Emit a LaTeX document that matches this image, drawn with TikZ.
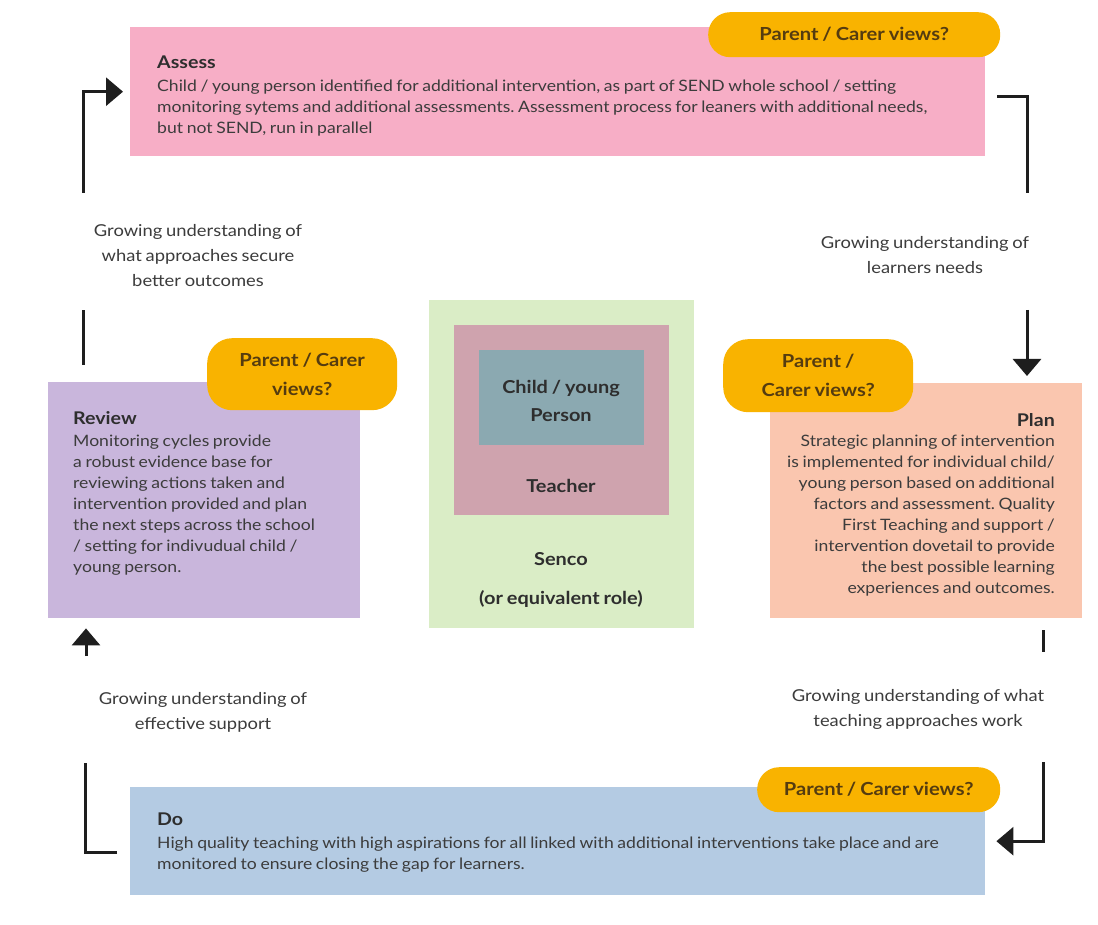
\documentclass[tikz,border=0pt]{standalone}
\usepackage{fontspec}
\setmainfont{Lato}[FakeStretch=1.12, WordSpace=0.8]
\usetikzlibrary{arrows.meta}
\frenchspacing
\definecolor{assessc}{HTML}{F7AEC6}
\definecolor{reviewc}{HTML}{C9B6DC}
\definecolor{planc}{HTML}{FAC6AF}
\definecolor{doc}{HTML}{B4CBE3}
\definecolor{pillc}{HTML}{F9B300}
\definecolor{pilltext}{HTML}{553C10}
\definecolor{greenc}{HTML}{DAEDC6}
\definecolor{teacherc}{HTML}{CFA3AE}
\definecolor{childc}{HTML}{8BA9B1}
\definecolor{bodyc}{HTML}{3C3C3C}
\definecolor{titlec}{HTML}{2E2E2E}
\definecolor{linec}{HTML}{1E1E1E}
\tikzset{
  panel/.style={inner sep=0pt, anchor=north west, draw=none},
  pill/.style={fill=pillc, rounded corners=22pt, inner sep=0pt, anchor=north west, text=pilltext, align=center, font=\fontsize{18}{29}\selectfont\bfseries},
  title/.style={inner sep=0pt, text=titlec, font=\fontsize{17.5}{20}\selectfont\bfseries},
  body/.style={inner sep=0pt, text=bodyc, font=\fontsize{15.7}{21}\selectfont},
  lbl/.style={inner sep=0pt, text=bodyc, align=center, font=\fontsize{16.4}{25}\selectfont},
  ctr/.style={inner sep=0pt, text=titlec, align=center, font=\fontsize{17.8}{28}\selectfont\bfseries},
  conn/.style={line width=3pt, draw=linec},
  arr/.style={conn, -{Triangle[width=28pt,length=17pt]}}
}
\begin{document}
\begin{tikzpicture}[x=1pt,y=-1pt]
\useasboundingbox[fill=white] (0,0) rectangle (1098,925);
% panels
\node[panel, fill=assessc, minimum width=855pt, minimum height=129pt] (assess) at (130,27) {};
\node[panel, fill=reviewc, minimum width=312pt, minimum height=236pt] (review) at (48,382) {};
\node[panel, fill=planc, minimum width=312pt, minimum height=235pt] (plan) at (770,383) {};
\node[panel, fill=doc, minimum width=855pt, minimum height=108pt] (do) at (130,787) {};
% pills
\node[pill, minimum width=292pt, minimum height=45pt] (pa) at (708,12) {Parent / Carer views?};
\node[pill, minimum width=190pt, minimum height=72pt, rounded corners=25pt] (pr) at (207,338) {Parent / Carer\\views?};
\node[pill, minimum width=190pt, minimum height=73pt, rounded corners=25pt] (pp) at (723,339) {Parent /\\Carer views?};
\node[pill, minimum width=243pt, minimum height=45pt] (pd) at (757,767) {Parent / Carer views?};
% centre
\node[panel, fill=greenc, minimum width=265pt, minimum height=328pt] (senco) at (429,300) {};
\node[panel, fill=teacherc, minimum width=215pt, minimum height=190pt] (teacher) at (454,325) {};
\node[panel, fill=childc, minimum width=165pt, minimum height=95pt] (child) at (479,350) {};
\node[ctr] (childt) at (561,401) {Child / young\\Person};
\node[ctr] (teachert) at (561,486) {Teacher};
\node[ctr] (sencot) at (561,559) {Senco};
\node[ctr] (sencor) at (561,599) {(or equivalent role)};
% texts
\node[title, anchor=west] (assesst) at (157,62) {Assess};
\node[body, anchor=north west, align=left] (assessb) at (157,80) {Child / young person identified for additional intervention, as part of SEND whole school / setting\\monitoring sytems and additional assessments. Assessment process for leaners with additional needs,\\but not SEND, run in parallel};
\node[title, anchor=west] (reviewt) at (73,418) {Review};
\node[body, anchor=north west, align=left] (reviewb) at (73,435) {Monitoring cycles provide\\a robust evidence base for\\reviewing actions taken and\\intervention provided and plan\\the next steps across the school\\/ setting for indivudual child /\\young person.};
\node[title, anchor=east] (plant) at (1055,420) {Plan};
\node[body, anchor=north east, align=right] (planb) at (1055,435) {Strategic planning of intervention\\is implemented for individual child/\\young person based on additional\\factors and assessment. Quality\\First Teaching and support /\\intervention dovetail to provide\\the best possible learning\\experiences and outcomes.};
\node[title, anchor=west] (dot) at (157,819) {Do};
\node[body, anchor=north west, align=left] (dob) at (157,837) {High quality teaching with high aspirations for all linked with additional interventions take place and are\\monitored to ensure closing the gap for learners.};
% labels
\node[lbl] (l1) at (198,256) {Growing understanding of\\what approaches secure\\better outcomes};
\node[lbl] (l2) at (925,255) {Growing understanding of\\learners needs};
\node[lbl] (l3) at (918,709) {Growing understanding of what\\teaching approaches work};
\node[lbl] (l4) at (203,712) {Growing understanding of\\effective support};
% connector coordinates
\coordinate (a1) at (83,365);
\coordinate (a2) at (83,310);
\coordinate (a3) at (83,193);
\coordinate (b1) at (997,97);
\coordinate (b2) at (1027,193);
\coordinate (b3) at (1027,310);
\coordinate (c1) at (1043,630);
\coordinate (c2) at (1043,652);
\coordinate (c3) at (1043,762);
\coordinate (d1) at (117,852);
\coordinate (d2) at (85,763);
\coordinate (d3) at (86,656);
% connectors
\draw[conn] (a1) -- (a2);
\draw[arr, shorten >=7pt] (a3) |- (assess.west);
\draw[conn] (b1) -| (b2);
\draw[arr, shorten >=7pt] (b3) -- (b3 |- plan.north);
\draw[conn] (c1) -- (c2);
\draw[arr, shorten >=11pt] (c3) |- (do.east);
\draw[conn] (d1) -| (d2);
\draw[arr, shorten >=10pt] (d3) -- (d3 |- review.south);
\end{tikzpicture}
\end{document}
